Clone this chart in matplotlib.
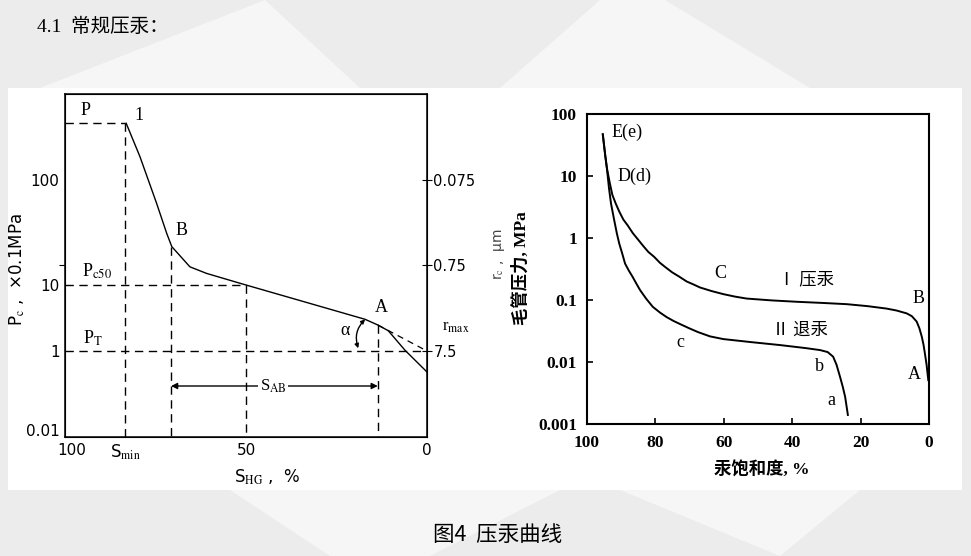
import numpy as np
import matplotlib
matplotlib.use("Agg")
import matplotlib.pyplot as plt
from matplotlib.patches import Rectangle, Polygon

plt.rcParams['font.family'] = ['DejaVu Sans', 'Noto Sans CJK SC']
plt.rcParams['mathtext.fontset'] = 'stix'

SERIF = ['Liberation Serif', 'Noto Sans CJK SC']
CJK = ['Noto Sans CJK SC', 'DejaVu Sans']

# ---- left chart: schematic curve, S_HG (%) vs Pc (x0.1 MPa)
s_curve = [83.1, 79.3, 74.7, 71.9, 70.5, 65.5, 60.9, 51.7, 50.0, 17.1, 13.6, 10.7, 6.1, 0.1]
pc_curve = [347, 167, 60, 31, 23.2, 14.9, 12.9, 10.4, 10.0, 3.02, 2.48, 2.03, 1.03, 0.30]
s_min, s_b, s_50, s_a = 83.4, 70.7, 50.0, 13.6
p_top, p_b, p_c50, p_t, p_a = 347, 23.2, 10.0, 1.0, 2.48
p_sab = 0.13
left_yticks = [100, 10, 1, 0.01]
left_yticklabels = ['100', '10', '1', '0.01']
left_xticks = [98, s_min, 50, 0]
left_xticklabels = ['100', r'S$_{\rm min}$', '50', '0']
r_tick_pc = [100, 15.5, 1]
r_tick_labels = ['0.075', '0.75', '7.5']

# ---- right chart: mercury saturation (%) vs capillary pressure (MPa)
sat_inj = [95.3, 94.6, 94.1, 93.3, 92.5, 91.5, 90.5, 89.3, 88.0, 86.5, 85.0, 83.5, 82.0,
           80.3, 78.6, 77.0, 75.0, 73.0, 70.8, 68.9, 66.9, 63.5, 60.1, 56.7, 53.3, 46.0,
           38.6, 31.0, 24.0, 18.0, 12.4, 9.5, 6.5, 5.0, 3.6, 2.8, 2.1, 1.6, 1.2, 0.7, 0.2]
pc_inj = [47.5, 22, 13.5, 8.0, 5.0, 3.6, 2.7, 2.0, 1.6, 1.2, 0.95, 0.75, 0.6,
          0.5, 0.40, 0.34, 0.28, 0.24, 0.20, 0.18, 0.16, 0.14, 0.125, 0.114, 0.106, 0.099,
          0.094, 0.090, 0.086, 0.080, 0.073, 0.068, 0.061, 0.055, 0.045, 0.035, 0.0256,
          0.019, 0.0138, 0.009, 0.0051]
sat_wd = [95.3, 94.6, 94.1, 93.5, 92.9, 92.0, 91.2, 90.5, 89.6, 88.8, 87.7, 86.6, 85.5,
          84.4, 82.6, 80.7, 78.6, 76.6, 74.6, 72.7, 70.0, 67.5, 64.0, 60.1, 52.0, 43.5,
          36.0, 31.8, 29.6, 28.0, 27.0, 26.0, 25.2, 24.5, 23.7]
pc_wd = [47.5, 22, 13.5, 6.5, 3.63, 2.0, 1.2, 0.82, 0.56, 0.39, 0.30, 0.238, 0.185,
         0.145, 0.105, 0.078, 0.063, 0.053, 0.046, 0.041, 0.035, 0.0305, 0.026, 0.0235,
         0.021, 0.0188, 0.0168, 0.0156, 0.0145, 0.0122, 0.0090, 0.0058, 0.0040, 0.00275,
         0.0014]
right_xticks = [100, 80, 60, 40, 20, 0]
right_yticks = [0.001, 0.01, 0.1, 1, 10, 100]
right_yticklabels = ['0.001', '0.01', '0.1', '1', '10', '100']

W, H = 971, 556


def fx(x):
    return x / W


def fy(y):
    return 1 - y / H


fig = plt.figure(figsize=(9.71, 5.56), dpi=100)
fig.patch.set_facecolor('#ececec')

# faint background shapes + white panel
for pts in ([(40, 88), (265, 0), (360, 88)],
            [(500, 88), (600, 0), (665, 0), (810, 88)],
            [(230, 490), (560, 490), (430, 556), (330, 556)],
            [(620, 490), (860, 490), (780, 556)]):
    fig.add_artist(Polygon([(fx(a), fy(b)) for a, b in pts], closed=True,
                           transform=fig.transFigure, facecolor='#f6f6f6',
                           edgecolor='none', zorder=-2))
fig.add_artist(Rectangle((fx(8), fy(490)), (962 - 8) / W, (490 - 88) / H,
                         transform=fig.transFigure, facecolor='white',
                         edgecolor='none', zorder=-1))

fig.text(fx(37), fy(27), '4.1  常规压汞：', family=SERIF, fontsize=14,
         ha='left', va='center')
fig.text(fx(498), fy(535), '图4  压汞曲线', family=CJK, fontsize=15.5,
         ha='center', va='center')

# ================= left chart =================
LOG_NODES = [-3, -2, 0, 1, 2, 3]
POS_NODES = [-32.5, 7, 86, 152, 257, 362]


def fwd(y):
    return np.interp(np.log10(np.clip(y, 1e-9, None)), LOG_NODES, POS_NODES)


def inv(p):
    return 10 ** np.interp(p, POS_NODES, LOG_NODES)


ax1 = fig.add_axes([fx(65), fy(437), (427 - 65) / W, (437 - 94) / H])
ax1.set_yscale('function', functions=(fwd, inv))
ymin, ymax = inv(0), inv(343)
ax1.set_ylim(ymin, ymax)
ax1.set_xlim(100, 0)
for sp in ax1.spines.values():
    sp.set_linewidth(1.1)

ax1.plot(s_curve, pc_curve, color='black', lw=1.0)
dash = dict(color='black', lw=1.0, linestyle=(0, (6, 4)))
ax1.plot([100, s_min], [p_top, p_top], **dash)
ax1.plot([s_min, s_min], [p_top, ymin], **dash)
ax1.plot([s_b, s_b], [p_b, ymin], **dash)
ax1.plot([100, s_50], [p_c50, p_c50], **dash)
ax1.plot([s_50, s_50], [p_c50, ymin], **dash)
ax1.plot([100, 0], [p_t, p_t], **dash)
ax1.plot([s_a, s_a], [p_a, ymin], **dash)
ax1.plot([s_a, 0], [p_a, p_t], color='black', lw=0.9, linestyle=(0, (5, 4)))

ax1.annotate('', xy=(s_a, p_sab), xytext=(s_b, p_sab),
             arrowprops=dict(arrowstyle='<|-|>', lw=1, color='black',
                             mutation_scale=9, shrinkA=0, shrinkB=0))
ax1.text(42.5, p_sab, r'S$_{\rm AB}$', family=SERIF, fontsize=12, ha='center',
         va='center', bbox=dict(facecolor='white', edgecolor='none', pad=1))
ax1.annotate('', xy=(17.1, 3.02), xytext=(19.0, 1.1),
             arrowprops=dict(arrowstyle='<|-|>', lw=1, color='black',
                             mutation_scale=6, shrinkA=0, shrinkB=0,
                             connectionstyle='arc3,rad=-0.3'))

lab = dict(family=SERIF, fontsize=13, ha='center', va='center')
ax1.text(94.2, 464, 'P', **lab)
ax1.text(79.7, 407, '1', **lab)
ax1.text(67.8, 33.4, 'B', **lab)
ax1.text(12.7, 4.6, 'A', **lab)
ax1.text(22.7, 2.03, 'α', **lab)
ax1.text(95.3, 13.4, r'P$_{\rm c50}$', family=SERIF, fontsize=13, ha='left', va='center')
ax1.text(95.0, 1.56, r'P$_{\rm T}$', family=SERIF, fontsize=13, ha='left', va='center')
ax1.text(-4.2, 2.31, r'r$_{\rm max}$', family=SERIF, fontsize=12, ha='left',
         va='center', clip_on=False)

ax1.set_yticks(left_yticks)
ax1.set_yticklabels(left_yticklabels)
ax1.set_yticks(r_tick_pc, minor=True)
ax1.tick_params(axis='y', which='major', length=0, pad=4, labelsize=11)
ax1.tick_params(axis='y', which='minor', length=4, direction='out', width=0.8)
ax1.set_xticks(left_xticks)
ax1.set_xticklabels(left_xticklabels)
ax1.tick_params(axis='x', length=0, pad=4, labelsize=11)
ax1.xaxis.get_majorticklabels()[1].set_fontsize(12)

ax1r = ax1.twinx()
ax1r.set_yscale('function', functions=(fwd, inv))
ax1r.set_ylim(ymin, ymax)
ax1r.set_yticks(r_tick_pc)
ax1r.set_yticklabels(r_tick_labels)
ax1r.yaxis.set_minor_locator(matplotlib.ticker.NullLocator())
ax1r.tick_params(axis='y', direction='inout', length=7, width=0.8, pad=1, labelsize=10.5)

fig.text(fx(267), fy(477), r'S$_{\rm HG}$ ,  %', fontsize=12,
         ha='center', va='center')
fig.text(fx(17), fy(270), r'P$_{\rm c}$ ,  ×0.1MPa', fontsize=12, rotation=90,
         ha='center', va='center')

# ================= right chart =================
ax2 = fig.add_axes([fx(586.7), fy(424), 342.3 / W, 309.7 / H])
ax2.set_yscale('log')
ax2.set_xlim(100, 0)
ax2.set_ylim(0.001, 100)
for sp in ax2.spines.values():
    sp.set_linewidth(1.5)

ax2.plot(sat_inj, pc_inj, color='black', lw=1.4)
ax2.plot(sat_wd, pc_wd, color='black', lw=1.4)

ax2.set_xticks(right_xticks)
ax2.set_xticklabels([str(v) for v in right_xticks], family=SERIF, fontweight='bold')
ax2.set_yticks(right_yticks)
ax2.set_yticklabels(right_yticklabels, family=SERIF, fontweight='bold')
ax2.yaxis.set_minor_locator(matplotlib.ticker.NullLocator())
ax2.tick_params(axis='both', direction='in', length=4, width=1.2, labelsize=12.5)
ax2.tick_params(axis='x', pad=8)
ax2.tick_params(axis='y', pad=7)

lab2 = dict(family=SERIF, fontsize=13, va='center')
ax2.text(92.7, 51.9, 'E(e)', ha='left', **lab2)
ax2.text(90.9, 10.0, 'D(d)', ha='left', **lab2)
ax2.text(61.0, 0.27, 'C', ha='center', **lab2)
ax2.text(3.1, 0.106, 'B', ha='center', **lab2)
ax2.text(4.4, 0.0062, 'A', ha='center', **lab2)
ax2.text(72.7, 0.0205, 'c', ha='center', **lab2)
ax2.text(32.0, 0.0084, 'b', ha='center', **lab2)
ax2.text(28.4, 0.00244, 'a', ha='center', **lab2)
ax2.text(44.1, 0.218, 'Ⅰ 压汞', family=CJK, fontsize=12.5, ha='left', va='center')
ax2.text(46.0, 0.0337, 'Ⅱ 退汞', family=CJK, fontsize=12.5, ha='left', va='center')

fig.text(fx(762), fy(470), '汞饱和度, %', family=SERIF, fontsize=12.5,
         fontweight='bold', ha='center', va='center')
fig.text(fx(521), fy(268), '毛管压力, MPa', family=SERIF, fontsize=12.5,
         fontweight='bold', rotation=90, ha='center', va='center')
fig.text(fx(499), fy(254), r'r$_{\rm c}$ ,  μm', fontsize=10,
         color='#444444', rotation=90, ha='center', va='center')

fig.savefig('out.png', dpi=100, facecolor=fig.get_facecolor())
